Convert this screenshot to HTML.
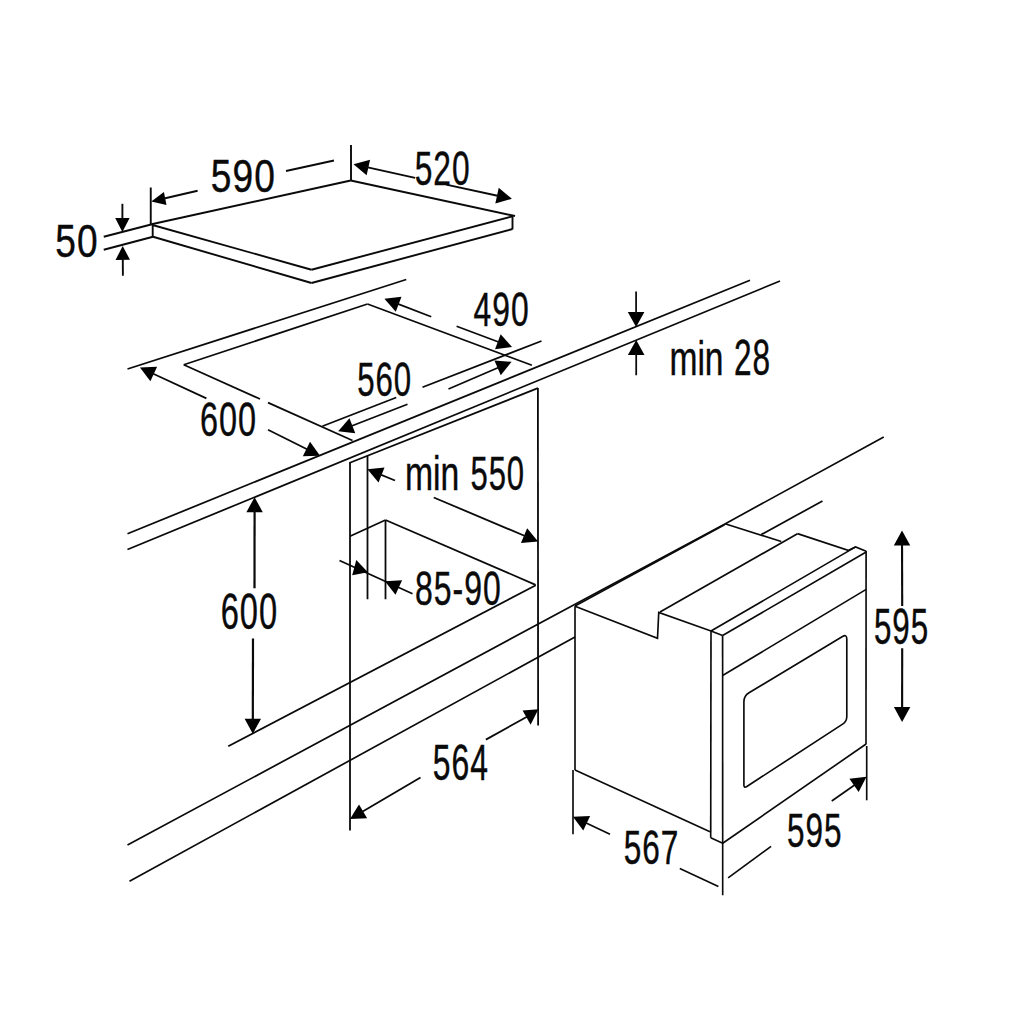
<!DOCTYPE html>
<html><head><meta charset="utf-8"><title>Installation dimensions</title>
<style>
html,body{margin:0;padding:0;background:#fff;}
body{width:1024px;height:1024px;overflow:hidden;font-family:"Liberation Sans",sans-serif;}
svg{display:block}
svg{stroke-width:2.0}
svg line, svg path{stroke:#0a0a0a;fill:none;stroke-linecap:butt;stroke-linejoin:miter}
svg .h{fill:#000;stroke:none;stroke-width:0}
svg text.d{letter-spacing:3px}
svg text{font-family:"Liberation Sans",sans-serif;font-size:100px;fill:#0a0a0a;stroke:#0a0a0a;stroke-width:0.9px}
</style></head>
<body>
<svg width="1024" height="1024" viewBox="0 0 1024 1024">
<rect x="0" y="0" width="1024" height="1024" fill="#fff"/>
<g stroke-width="1.9">
<line x1="150.75" y1="187.50" x2="150.75" y2="224.50"/>
<line x1="351.00" y1="144.90" x2="351.00" y2="180.50"/>
<line x1="151.50" y1="224.30" x2="350.75" y2="180.50"/>
<line x1="350.75" y1="180.50" x2="515.00" y2="216.00"/>
<line x1="152.50" y1="225.00" x2="311.50" y2="269.75"/>
<line x1="311.50" y1="269.75" x2="512.50" y2="216.30"/>
<line x1="153.00" y1="236.75" x2="311.50" y2="283.00"/>
<line x1="311.50" y1="283.00" x2="512.50" y2="229.00"/>
<line x1="512.50" y1="216.00" x2="512.50" y2="229.30"/>
<line x1="152.70" y1="224.30" x2="152.70" y2="237.00"/>
<line x1="103.75" y1="236.75" x2="152.00" y2="224.25"/>
<line x1="103.75" y1="249.75" x2="153.00" y2="236.75"/>
<polygon class="h" points="122.40,232.00 115.20,218.00 129.60,218.00"/>
<line x1="122.40" y1="203.80" x2="122.40" y2="220.68"/>
<polygon class="h" points="122.70,245.90 129.99,259.85 115.59,259.95"/>
<line x1="122.90" y1="275.70" x2="122.77" y2="257.22"/>
<text class="d" transform="matrix(0.3712 0 0 0.4592 55.17 256.84)">50</text>
<polygon class="h" points="151.3,201.6 163.9,192.0 166.5,205.1"/>
<line x1="163.00" y1="198.80" x2="197.60" y2="190.80"/>
<line x1="286.00" y1="171.00" x2="334.00" y2="160.50"/>
<text class="d" transform="matrix(0.3715 0 0 0.4606 210.71 191.54)">590</text>
<polygon class="h" points="353.51,164.17 370.09,159.67 366.61,175.29"/>
<line x1="415.10" y1="177.90" x2="365.50" y2="166.84"/>
<polygon class="h" points="511.89,198.83 495.34,203.43 498.72,187.79"/>
<line x1="446.20" y1="184.60" x2="499.88" y2="196.23"/>
<text class="d" transform="matrix(0.3173 0 0 0.4859 414.73 185.21)">520</text>
</g>
<g stroke-width="1.75">
<line x1="127.50" y1="369.00" x2="406.25" y2="279.50"/>
<line x1="183.75" y1="364.75" x2="367.50" y2="304.00"/>
<line x1="367.50" y1="304.00" x2="531.90" y2="365.25"/>
<line x1="183.75" y1="364.75" x2="260.00" y2="399.00"/>
<line x1="268.00" y1="402.60" x2="352.50" y2="440.50"/>
<line x1="322.30" y1="426.30" x2="396.25" y2="397.50"/>
<line x1="422.50" y1="387.30" x2="541.50" y2="341.00"/>
<polygon class="h" points="139.96,367.55 157.11,366.69 150.37,381.20"/>
<line x1="206.40" y1="398.40" x2="151.09" y2="372.72"/>
<polygon class="h" points="320.04,455.77 302.86,456.13 310.02,441.82"/>
<line x1="268.00" y1="429.75" x2="309.05" y2="450.28"/>
<text class="d" transform="matrix(0.3244 0 0 0.4873 199.98 435.51)">600</text>
<polygon class="h" points="384.44,298.79 401.50,296.76 395.76,311.70"/>
<line x1="431.25" y1="316.75" x2="395.90" y2="303.18"/>
<polygon class="h" points="512.06,347.11 495.02,349.25 500.65,334.27"/>
<line x1="456.60" y1="326.25" x2="500.57" y2="342.79"/>
<text class="d" transform="matrix(0.3186 0 0 0.4859 473.56 326.41)">490</text>
<polygon class="h" points="338.19,431.22 349.46,418.25 355.26,433.16"/>
<line x1="407.50" y1="404.25" x2="349.64" y2="426.76"/>
<polygon class="h" points="511.55,361.86 500.75,375.22 494.43,360.52"/>
<line x1="448.50" y1="389.00" x2="500.27" y2="366.72"/>
<text class="d" transform="matrix(0.3121 0 0 0.4831 357.15 395.92)">560</text>
</g>
<g stroke-width="1.75">
<line x1="127.50" y1="533.75" x2="750.00" y2="280.25"/>
<line x1="127.50" y1="549.50" x2="780.00" y2="281.00"/>
<polygon class="h" points="636.10,327.00 627.80,312.00 644.40,312.00"/>
<line x1="636.10" y1="291.50" x2="636.10" y2="314.88"/>
<polygon class="h" points="636.20,339.90 644.50,354.90 627.90,354.90"/>
<line x1="636.20" y1="375.25" x2="636.20" y2="352.02"/>
<text transform="matrix(0.3358 0 0 0.4795 669.45 375.30)">min</text>
<text class="d" transform="matrix(0.3162 0 0 0.4944 733.92 375.31)">28</text>
</g>
<g stroke-width="1.8">
<line x1="350.00" y1="462.50" x2="350.00" y2="830.50"/>
<line x1="367.50" y1="456.00" x2="367.50" y2="599.25"/>
<line x1="385.50" y1="520.00" x2="385.50" y2="599.25"/>
<line x1="349.25" y1="463.00" x2="537.90" y2="388.10"/>
<line x1="537.90" y1="388.10" x2="538.10" y2="725.40"/>
<line x1="350.00" y1="536.25" x2="385.50" y2="520.00"/>
<line x1="385.50" y1="520.00" x2="535.60" y2="584.80"/>
<line x1="228.25" y1="746.25" x2="535.80" y2="585.30"/>
<polygon class="h" points="367.44,469.27 384.54,467.60 378.50,482.42"/>
<line x1="395.00" y1="480.50" x2="378.82" y2="473.91"/>
<polygon class="h" points="538.05,541.48 520.94,542.95 527.16,528.21"/>
<line x1="433.75" y1="497.50" x2="526.74" y2="536.71"/>
<text transform="matrix(0.3372 0 0 0.4781 405.04 490.40)">min</text>
<text class="d" transform="matrix(0.3103 0 0 0.4873 470.46 490.41)">550</text>
<line x1="339.50" y1="560.50" x2="412.50" y2="593.75"/>
<polygon class="h" points="367.9,572.2 356.3,560 352.2,575.3"/>
<polygon class="h" points="384.95,581.25 402.10,580.25 395.49,594.82"/>
<text class="d" transform="matrix(0.3200 0 0 0.4887 415.02 604.81)">85-90</text>
</g>
<g stroke-width="2.2">
<polygon class="h" points="254.60,497.20 262.78,512.21 246.38,512.19"/>
<line x1="254.50" y1="588.30" x2="254.59" y2="509.32"/>
<polygon class="h" points="252.80,733.70 244.63,718.68 261.03,718.72"/>
<line x1="253.00" y1="638.60" x2="252.82" y2="721.58"/>
<text class="d" transform="matrix(0.3262 0 0 0.4915 220.67 629.01)">600</text>
</g>
<g stroke-width="1.8">
<polygon class="h" points="349.98,819.05 359.02,804.45 367.14,818.23"/>
<line x1="420.50" y1="777.50" x2="360.56" y2="812.82"/>
<polygon class="h" points="538.4,709.2 522.6,710.4 530.6,724.7"/>
<line x1="485.90" y1="739.60" x2="527.00" y2="716.80"/>
<text class="d" transform="matrix(0.3187 0 0 0.4915 432.83 780.01)">564</text>
</g>
<g stroke-width="1.7">
<path d="M127.50 845.00 L574.60 604.50 L724.00 524.40 L883.75 437.00"/>
<line x1="129.50" y1="881.25" x2="575.00" y2="637.00"/>
<line x1="761.25" y1="534.60" x2="822.50" y2="501.00"/>
</g>
<g stroke-width="1.65">
<line x1="575.00" y1="605.90" x2="724.50" y2="524.70"/>
<line x1="575.00" y1="606.25" x2="575.00" y2="770.00"/>
<line x1="573.00" y1="770.00" x2="573.00" y2="834.25"/>
<path d="M575.00 606.25 L657.50 638.25 L658.75 612.50 L711.00 631.00 L722.60 635.50"/>
<line x1="660.00" y1="612.00" x2="797.50" y2="533.75"/>
<line x1="725.00" y1="523.75" x2="781.25" y2="541.50"/>
<path d="M797.50 533.60 L848.10 550.40 L855.60 546.90 L866.20 551.30"/>
<line x1="855.60" y1="546.90" x2="711.00" y2="631.00"/>
<line x1="866.20" y1="552.00" x2="722.60" y2="635.50"/>
<line x1="711.00" y1="631.00" x2="710.70" y2="837.80"/>
<line x1="710.70" y1="837.80" x2="722.70" y2="843.20"/>
<line x1="722.60" y1="635.50" x2="722.70" y2="895.20"/>
<line x1="866.10" y1="551.00" x2="866.00" y2="744.20"/>
<line x1="866.70" y1="746.00" x2="866.70" y2="800.30"/>
<line x1="722.70" y1="843.20" x2="866.10" y2="744.00"/>
<line x1="722.60" y1="675.50" x2="866.20" y2="589.40"/>
<line x1="575.00" y1="770.00" x2="710.00" y2="831.80"/>
<path d="M743.90 701.80 Q743.90 695.80 749.04 692.71 L842.51 636.57 Q846.80 634.00 846.80 639.00 L846.80 716.40 Q846.80 721.40 842.61 724.13 L746.83 786.49 Q743.90 788.40 743.90 784.90 Z"/>
<polygon class="h" points="572.96,816.74 590.12,816.01 583.28,830.47"/>
<line x1="610.00" y1="834.25" x2="584.06" y2="821.99"/>
<line x1="679.80" y1="868.60" x2="718.40" y2="886.60"/>
<text class="d" transform="matrix(0.3159 0 0 0.4845 623.84 863.82)">567</text>
<line x1="728.10" y1="877.90" x2="771.10" y2="846.40"/>
<polygon class="h" points="866.49,776.66 858.63,791.93 849.45,778.83"/>
<line x1="831.75" y1="801.00" x2="856.43" y2="783.70"/>
<text class="d" transform="matrix(0.3152 0 0 0.4901 786.94 846.51)">595</text>
</g>
<g stroke-width="2.1">
<polygon class="h" points="902.00,530.60 910.24,545.58 893.84,545.62"/>
<line x1="902.20" y1="606.00" x2="902.03" y2="542.72"/>
<polygon class="h" points="902.10,721.90 893.92,706.89 910.32,706.91"/>
<line x1="902.20" y1="648.20" x2="902.12" y2="709.78"/>
<text class="d" transform="matrix(0.3139 0 0 0.4915 873.94 644.11)">595</text>
</g>
</svg>
</body></html>
